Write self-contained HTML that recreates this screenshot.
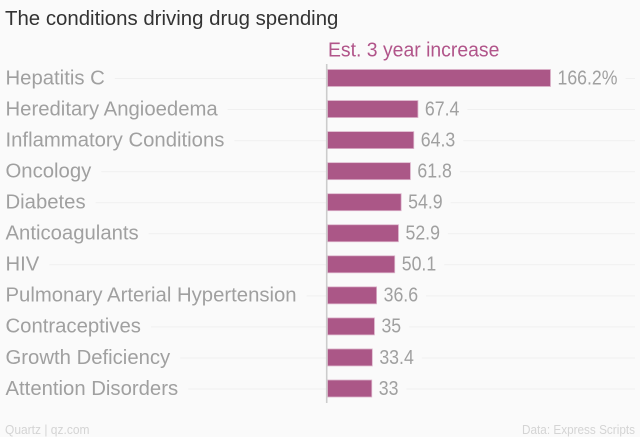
<!DOCTYPE html>
<html lang="en">
<head>
<meta charset="utf-8">
<title>The conditions driving drug spending</title>
<style>
html,body{margin:0;padding:0;background:#fafafa;}
svg{display:block;font-family:"Liberation Sans",sans-serif;}
</style>
</head>
<body>
<svg id="chart" xmlns="http://www.w3.org/2000/svg" width="640" height="437" viewBox="0 0 640 437">
<rect x="0" y="0" width="640" height="437" fill="#fafafa"/>
<g id="grid"></g>
<g id="bars"></g>
<line x1="326.7" x2="326.7" y1="64" y2="403" stroke="#cccccc" stroke-width="1.6"/>
<g id="labels"></g>
<g id="values"></g>
<text id="title" x="5" y="25" font-size="20" fill="#333333">The conditions driving drug spending</text>
<text id="series" x="328" y="56.5" font-size="20" fill="#b1558a">Est. 3 year increase</text>
<text id="src-left" x="5" y="434" font-size="12.5" fill="#d4d4d4">Quartz | qz.com</text>
<text id="src-right" x="635" y="434" font-size="12.5" fill="#d4d4d4" text-anchor="end">Data: Express Scripts</text>
</svg>
<script>
var categories = ["Hepatitis C","Hereditary Angioedema","Inflammatory Conditions","Oncology","Diabetes","Anticoagulants","HIV","Pulmonary Arterial Hypertension","Contraceptives","Growth Deficiency","Attention Disorders"];
var seriesValues = [166.2,67.4,64.3,61.8,54.9,52.9,50.1,36.6,35,33.4,33];
var valueLabels = ["166.2%","67.4","64.3","61.8","54.9","52.9","50.1","36.6","35","33.4","33"];

var NS = "http://www.w3.org/2000/svg";
function xScale(v){ return 327.5 + v * (223 / 166.2); }
function yScale(i){ return 78 + i * 31.05; }
function make(tag, attrs, parent){
  var el = document.createElementNS(NS, tag);
  for (var k in attrs) el.setAttribute(k, attrs[k]);
  parent.appendChild(el);
  return el;
}
function condense(el, k){
  el.setAttribute("lengthAdjust", "spacingAndGlyphs");
  el.setAttribute("textLength", (el.getComputedTextLength() * k).toFixed(1));
}
var gridG = document.getElementById("grid");
var barsG = document.getElementById("bars");
var labelsG = document.getElementById("labels");
var valuesG = document.getElementById("values");
var LABEL_K = 1.015, VALUE_K = 0.885;
categories.forEach(function(name, i){
  var y = yScale(i);
  var x1 = xScale(seriesValues[i]);

  var label = make("text", {x: 5.5, y: y + 6.3, "font-size": 20, fill: "#a0a0a0"}, labelsG);
  
  
  label.textContent = name;
  var natural = label.getComputedTextLength();
  condense(label, LABEL_K);
  var labelEnd = 5.5 + natural * LABEL_K;

  var value = make("text", {x: x1 + 7, y: y + 6.3, "font-size": 20, fill: "#a0a0a0"}, valuesG);
  
  
  value.textContent = valueLabels[i];
  var naturalV = value.getComputedTextLength();
  condense(value, VALUE_K);
  var valueEnd = x1 + 7 + naturalV * VALUE_K;

  var gridL = make("line", {x1: labelEnd + 10, x2: 326, y1: y + 0.5, y2: y + 0.5, stroke: "#f0f0f0", "stroke-width": 1}, gridG);
  
  
  var gridR = make("line", {x1: valueEnd + 8, x2: 635, y1: y + 0.5, y2: y + 0.5, stroke: "#f0f0f0", "stroke-width": 1}, gridG);
  
  

  var bar = make("rect", {x: 327.5, y: y - 8.5, width: x1 - 327.5, height: 17, fill: "#ab5787", stroke: "#dcb4cb", "stroke-width": 0.8}, barsG);
  
  
});
condense(document.getElementById("title"), 1.02);
condense(document.getElementById("series"), 0.97);
condense(document.getElementById("src-left"), 0.96);
condense(document.getElementById("src-right"), 0.94);
</script>
</body>
</html>
